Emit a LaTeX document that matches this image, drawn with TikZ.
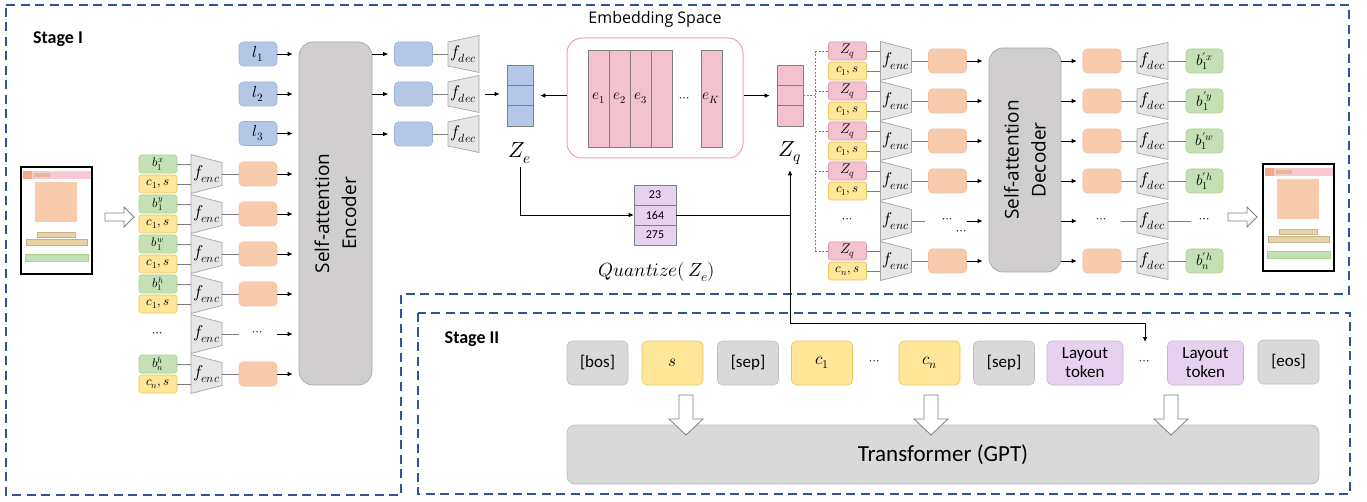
\documentclass[tikz,border=0pt]{standalone}
\usepackage{fontspec}
\usepackage{unicode-math}
\setmainfont{Carlito}
\setmathfont{Latin Modern Math}
\newfontfamily\osans{Open Sans}
\usetikzlibrary{arrows.meta,calc}
\definecolor{dashblue}{HTML}{2F5597}
\definecolor{lineg}{HTML}{7F7F7F}
\definecolor{trapF}{HTML}{E7E6E6}
\definecolor{trapD}{HTML}{A6A6A6}
\definecolor{encF}{HTML}{D0CECE}
\definecolor{encD}{HTML}{ADADAD}
\definecolor{grnF}{HTML}{C5E0B4}
\definecolor{grnD}{HTML}{A9D18E}
\definecolor{yelF}{HTML}{FFE699}
\definecolor{yelD}{HTML}{E8C55C}
\definecolor{pnkF}{HTML}{F4C2CE}
\definecolor{pnkD}{HTML}{D99AAA}
\definecolor{orF}{HTML}{F8CBAD}
\definecolor{orD}{HTML}{F2BFA0}
\definecolor{bluF}{HTML}{B4C7E7}
\definecolor{bluD}{HTML}{9DB3DA}
\definecolor{lavF}{HTML}{E6D2EE}
\definecolor{lavD}{HTML}{C8B2D4}
\definecolor{tokF}{HTML}{D9D9D9}
\definecolor{tokD}{HTML}{BFBFBF}
\definecolor{embD}{HTML}{E6A5B4}
\definecolor{pgPink}{HTML}{F9C9D3}
\definecolor{pgOrS}{HTML}{F4A98A}
\definecolor{pgTanS}{HTML}{E0BC96}
\definecolor{pgTan}{HTML}{E8D3A6}
\newcommand\trapenc[4]{%
  \filldraw[trap] (#2-15.5,#3-19.5) -- (#2+15.5,#3-11.5) -- (#2+15.5,#3+11.5) -- (#2-15.5,#3+19.5) -- cycle;
  \node[trapn] (#1) at (#2,#3) {#4};}
\newcommand\trapdec[4]{%
  \filldraw[trap] (#2-15.5,#3-12) -- (#2+15.5,#3-18.5) -- (#2+15.5,#3+18.5) -- (#2-15.5,#3+12) -- cycle;
  \node[trapn] (#1) at (#2,#3) {#4};}
\newcommand\pageicon[2]{%
  \begin{scope}[shift={(#1,#2)}]
    \draw[black, line width=1.1pt, fill=white] (0,0) rectangle (71,107);
    \fill[pgPink] (1.5,4) rectangle (69.5,12);
    \fill[pgOrS] (1.5,4) rectangle (11,12);
    \fill[pgTanS] (13,6) rectangle (29,10);
    \fill[orF] (14,15) rectangle (56,55);
    \filldraw[fill=pgTan, draw=pgTan!85!black, line width=0.3pt] (16,65) rectangle (54,70);
    \filldraw[fill=pgTan, draw=pgTan!85!black, line width=0.3pt] (5,72) rectangle (66,78);
    \filldraw[fill=grnF, draw=grnD, line width=0.3pt] (4,87) rectangle (67,94);
  \end{scope}}
\newcommand\harrow[3]{%
  \filldraw[hollow] (#1,#3-4) -- (#2-10,#3-4) -- (#2-10,#3-10) -- (#2,#3) -- (#2-10,#3+10) -- (#2-10,#3+4) -- (#1,#3+4) -- cycle;}
\newcommand\darrow[4]{%
  \filldraw[hollow] (#1-7,#2) -- (#1+7,#2) -- (#1+7,#4) -- (#1+17,#4) -- (#1,#3) -- (#1-17,#4) -- (#1-7,#4) -- cycle;}
\begin{document}
\begin{tikzpicture}[x=1pt,y=-1pt,
  arr/.style={-{Latex[length=5pt,width=4.5pt]}, line width=0.7pt, black},
  gline/.style={line width=0.8pt, draw=lineg},
  dline/.style={line width=0.6pt, draw=gray, dash pattern=on 2pt off 1.5pt},
  stagedash/.style={draw=dashblue, line width=2.2pt, dash pattern=on 9pt off 5.5pt},
  hollow/.style={fill=white, draw=lineg, line width=0.8pt},
  trap/.style={fill=trapF, draw=trapD, line width=0.7pt},
  trapn/.style={minimum width=31pt, minimum height=39pt, inner sep=0pt, font=\fontsize{17}{17}\selectfont},
  bx/.style={rounded corners=2.5pt, inner sep=0pt, line width=0.6pt, minimum width=38pt},
  gbox/.style={bx, draw=grnD, fill=grnF, minimum height=18pt, font=\fontsize{12.5}{12.5}\selectfont},
  ybox/.style={bx, draw=yelD, fill=yelF, minimum height=18pt, font=\fontsize{13}{13}\selectfont},
  pbox/.style={bx, draw=pnkD, fill=pnkF, minimum height=18pt, font=\fontsize{14}{14}\selectfont},
  obox/.style={bx, draw=orD, fill=orF, minimum height=24pt, rounded corners=4pt},
  bbox/.style={bx, draw=bluD, fill=bluF, minimum height=24pt, rounded corners=4pt, font=\fontsize{16}{16}\selectfont},
  gobox/.style={bx, draw=grnD, fill=grnF, minimum width=37pt, minimum height=24pt, rounded corners=4pt, font=\fontsize{15}{15}\selectfont},
  ghost/.style={minimum width=38pt, minimum height=24pt, inner sep=0pt, font=\fontsize{13}{13}\selectfont},
  txt/.style={inner sep=0pt, font=\fontsize{13}{13}\selectfont},
  encbox/.style={draw=encD, fill=encF, rounded corners=14pt, line width=0.8pt},
  bigtxt/.style={align=center, font=\osans\fontsize{19}{27}\selectfont},
  cellB/.style={draw=gray, fill=bluF, minimum width=26pt, minimum height=20.3pt, inner sep=0pt, line width=0.6pt},
  cellP/.style={draw=gray, fill=pnkF, minimum width=26pt, minimum height=20.3pt, inner sep=0pt, line width=0.6pt},
  cellQ/.style={draw=gray, fill=lavF, minimum width=42pt, minimum height=20pt, inner sep=0pt, line width=0.6pt, font=\fontsize{12}{12}\selectfont},
  ecol/.style={draw=gray, fill=pnkF, minimum width=21pt, minimum height=97pt, inner sep=0pt, line width=0.7pt, font=\fontsize{15}{15}\selectfont},
  tok/.style={rounded corners=5pt, minimum width=61pt, minimum height=44pt, inner sep=0pt, line width=0.6pt, align=center, font=\fontsize{17}{19}\selectfont},
  tokg/.style={tok, draw=tokD, fill=tokF},
  toky/.style={tok, draw=yelD, fill=yelF},
  tokp/.style={tok, draw=lavD, fill=lavF, minimum width=76pt},
]
\useasboundingbox (0,0) rectangle (1367,502);

% stage frames
\draw[stagedash] (6,5) -- (1349,5) -- (1349,294) -- (401,294) -- (401,495) -- (6,495) -- cycle;
\draw[stagedash] (418,313) rectangle (1350,494);
\node[font=\bfseries\fontsize{18}{18}\selectfont] (st1) at (58,39) {Stage I};
\node[font=\bfseries\fontsize{18}{18}\selectfont] (st2) at (472,339) {Stage II};

% input page
\pageicon{21}{167}
\harrow{105}{134}{217}

% encoder
\node[encbox, minimum width=73pt, minimum height=343pt] (enc) at (335.5,213.5) {};
\node[bigtxt, rotate=90] (enctext) at (enc.center) {Self-attention\\Encoder};

% layout tokens l
\foreach \i/\y in {1/54,2/94,3/133.5}{
  \node[bbox] (l\i) at (258,\y) {$l_{\i}$};
  \draw[arr, shorten >=6pt] (l\i.east) -- (l\i.east -| enc.west);
}

% left element rows
\foreach \i/\sx in {0/x,1/y,2/w,3/h}{
  \pgfmathsetmacro\yc{174+40*\i}
  \node[gbox] (lb\i) at (158,\yc-10) {$b_1^{\sx}$};
  \node[ybox] (lc\i) at (158,\yc+10) {$c_1,s$};
  \trapenc{lf\i}{206.5}{\yc}{$f_{enc}$}
  \node[obox] (lo\i) at (258,\yc) {};
  \draw[gline] (lb\i.east) -- (lb\i.east -| lf\i.west);
  \draw[gline] (lc\i.east) -- (lc\i.east -| lf\i.west);
  \draw[gline] (lf\i.east) -- (lo\i.west);
  \draw[arr, shorten >=6pt] (lo\i.east) -- (lo\i.east -| enc.west);
}
\node[txt] (lb4) at (158,335) {$\cdots$};
\trapenc{lf4}{206.5}{334}{$f_{enc}$}
\node[ghost] (lo4) at (258,334) {$\cdots$};
\draw[gline] (lf4.east) -- (lo4.west);
\draw[arr, shorten >=6pt] (lo4.east) -- (lo4.east -| enc.west);
\node[gbox] (lb5) at (158,364) {$b_n^{h}$};
\node[ybox] (lc5) at (158,384) {$c_n,s$};
\trapenc{lf5}{206.5}{374}{$f_{enc}$}
\node[obox] (lo5) at (258,374) {};
\draw[gline] (lb5.east) -- (lb5.east -| lf5.west);
\draw[gline] (lc5.east) -- (lc5.east -| lf5.west);
\draw[gline] (lf5.east) -- (lo5.west);
\draw[arr, shorten >=6pt] (lo5.east) -- (lo5.east -| enc.west);

% encoder outputs
\foreach \i/\y in {1/54,2/94,3/134}{
  \node[bbox] (eo\i) at (413.5,\y) {};
  \draw[arr, shorten >=6pt] (eo\i.west -| enc.east) -- (eo\i.west);
  \trapdec{ef\i}{463.5}{\y}{$f_{dec}$}
  \draw[gline] (eo\i.east) -- (ef\i.west);
}

% Z_e
\node[cellB] (ze1) at (520,75.3) {};
\node[cellB] (ze2) at (520,95.6) {};
\node[cellB] (ze3) at (520,115.9) {};
\draw[arr, shorten <=6pt, shorten >=7pt] (ef2.east) -- (ef2.east -| ze2.west);
\node[font=\fontsize{22}{22}\selectfont] (zel) at (520,153) {$Z_e$};

% embedding space
\node[font=\osans\fontsize{16}{16}\selectfont] (embt) at (655,19) {Embedding Space};
\node[draw=embD, fill=white, rounded corners=15pt, line width=1pt, minimum width=176pt, minimum height=120pt] (emb) at (655,98) {};
\node[ecol] (e1) at (598.5,98.5) {$e_1$};
\node[ecol] (e2) at (619.5,98.5) {$e_2$};
\node[ecol] (e3) at (640.5,98.5) {$e_3$};
\node[ecol] (e4) at (661.5,98.5) {};
\node[ecol] (eK) at (711.5,98.5) {$e_K$};
\node[txt] (edots) at (685,100) {$\cdots$};

% Z_q
\node[cellP] (zq1) at (790,75.3) {};
\node[cellP] (zq2) at (790,95.6) {};
\node[cellP] (zq3) at (790,115.9) {};
\node[font=\fontsize{22}{22}\selectfont] (zql) at (790,153) {$Z_q$};
\draw[arr, shorten >=7pt] (emb.west |- ze2.east) -- (ze2.east);
\draw[arr, shorten >=7pt] (emb.east |- zq2.west) -- (zq2.west);

% quantize
\node[cellQ] (q1) at (655,195) {23};
\node[cellQ] (q2) at (655,215) {164};
\node[cellQ] (q3) at (655,235) {275};
\node[font=\fontsize{19}{19}\selectfont] (qlab) at (657,272) {$Quantize(\,Z_e)$};
\draw[arr] (zel.south) |- (q2.west);
\draw[arr, shorten >=2pt] (q2.east) -| (zql.south);
\coordinate (qturn) at (790,323);
\coordinate (tip) at (1145,342);
\draw[arr] (q2.east -| zql.south) -- (qturn) -| (tip);

% right input rows
\foreach \i/\c in {0/1,1/1,2/1,3/1,5/n}{
  \pgfmathsetmacro\yc{61+40*\i}
  \node[pbox] (rz\i) at (847.5,\yc-10) {$Z_q$};
  \node[ybox] (rc\i) at (847.5,\yc+10) {$c_{\c},s$};
  \trapenc{rf\i}{896}{\yc}{$f_{enc}$}
  \node[obox] (ro\i) at (947.5,\yc) {};
  \draw[gline] (rz\i.east) -- (rz\i.east -| rf\i.west);
  \draw[gline] (rc\i.east) -- (rc\i.east -| rf\i.west);
  \draw[gline] (rf\i.east) -- (ro\i.west);
}
\node[txt] (rz4) at (848,221) {$\cdots$};
\trapenc{rf4}{896}{221}{$f_{enc}$}
\node[ghost] (ro4) at (947.5,221) {$\cdots$};
\node[txt] (rx4) at (962,233) {$\cdots$};
\draw[gline] (rf4.east) -- ([xshift=-3pt]ro4.west);

% dashed bus from Z_q
\coordinate (bus) at (815,96);
\draw[dline] (zq2.east) -- (zq2.east -| bus);
\draw[dline] (rz0.west -| bus) -- (rz5.west -| bus);
\foreach \i in {0,1,2,3,5}{
  \draw[dline] (rz\i.west -| bus) -- (rz\i.west);
}

% decoder
\node[encbox, minimum width=72pt, minimum height=224pt] (dec) at (1025,160) {};
\node[bigtxt, rotate=90] (dectext) at (dec.center) {Self-attention\\Decoder};
\foreach \i in {0,1,2,3,4,5}{
  \draw[arr, shorten >=6pt] (ro\i.east) -- (ro\i.east -| dec.west);
}

% decoder outputs
\foreach \i/\sx/\sb in {0/x/1,1/y/1,2/w/1,3/h/1,5/h/n}{
  \pgfmathsetmacro\yc{61+40*\i}
  \node[obox] (do\i) at (1102,\yc) {};
  \trapdec{df\i}{1152.5}{\yc}{$f_{dec}$}
  \node[gobox] (go\i) at (1204.5,\yc) {$b^{\prime\sx}_{\sb}$};
  \draw[gline] (do\i.east) -- (df\i.west);
  \draw[gline] (df\i.east) -- (go\i.west);
}
\node[ghost] (do4) at (1102,221) {$\cdots$};
\trapdec{df4}{1152.5}{221}{$f_{dec}$}
\node[ghost] (go4) at (1204.5,221) {$\cdots$};
\draw[gline] (do4.east) -- (df4.west);
\draw[gline] (df4.east) -- ([xshift=6pt]go4.west);
\foreach \i in {0,1,2,3,5}{
  \draw[arr, shorten >=6pt] (do\i.west -| dec.east) -- (do\i.west);
}
\draw[arr] (do4.west -| dec.east) -- ([xshift=-6pt]do4.west);

% output page
\harrow{1228}{1257}{217}
\pageicon{1263}{164}

% stage II tokens
\node[tokg] (bos) at (597.5,363) {[bos]};
\node[toky] (ts) at (672.5,363) {$s$};
\node[tokg] (sep1) at (748,363) {[sep]};
\node[toky] (tc1) at (822,363) {$c_1$};
\node[txt] (td1) at (875,363) {$\cdots$};
\node[toky] (tcn) at (929.5,363) {$c_n$};
\node[tokg] (sep2) at (1004,363) {[sep]};
\node[tokp] (lt1) at (1085,363) {Layout\\token};
\node[txt] (td2) at (1145,363) {$\cdots$};
\node[tokp] (lt2) at (1205.5,363) {Layout\\token};
\node[tokg] (eos) at (1288.5,362) {[eos]};

\node[draw=tokD, fill=tokF, rounded corners=8pt, line width=0.8pt, minimum width=752pt, minimum height=59pt, font=\fontsize{23}{23}\selectfont] (gpt) at (943,454.5) {Transformer (GPT)};
\darrow{686}{395}{435}{419}
\darrow{931}{395}{435}{419}
\darrow{1171}{395}{435}{419}
\end{tikzpicture}
\end{document}
